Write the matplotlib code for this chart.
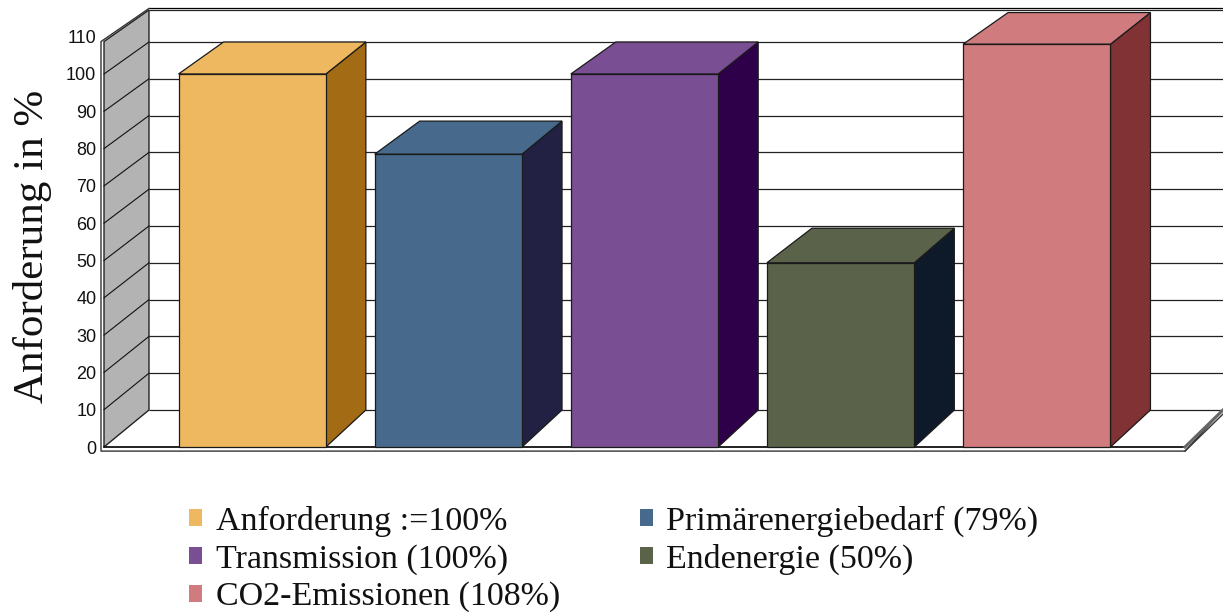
import matplotlib
matplotlib.use('Agg')
import matplotlib.pyplot as plt
import numpy as np
from matplotlib.patches import Patch, Polygon

labels = ['Anforderung :=100%', 'Primärenergiebedarf (79%)', 'Transmission (100%)',
          'Endenergie (50%)', 'CO2-Emissionen (108%)']
values = [100, 78.5, 100, 49.4, 108]
front_colors = ['#EEB861', '#476A8C', '#7A4E92', '#5A6349', '#D07C7F']
side_colors = ['#A26B14', '#232143', '#2E0049', '#0E1A29', '#803235']
yticks = [0, 10, 20, 30, 40, 50, 60, 70, 80, 90, 100, 110]

W, H = 1223, 616
# front plane of the fake 3d box, in pixels
LEFT, RIGHT, Y0, PX_PER_UNIT = 104, 1185, 447, 3.73
SLOT = 196.2
BAR_W = 147.4 / SLOT
DX_L = 45 / SLOT   # depth shift of left edges
DX_R = 40 / SLOT   # depth shift of right edges, bars get narrower at the back
WALL_TOP = 108.7
XMIN = -0.7556
XMAX = 4.7556


def back(v):
    # value on the back plane, seen slightly in perspective
    return 9.92 + 0.9866 * np.asarray(v, dtype=float)


plt.rcParams['font.family'] = ['Liberation Sans', 'DejaVu Sans']
fig = plt.figure(figsize=(W / 100, H / 100), dpi=100)
ax = fig.add_axes([LEFT / W, 1 - Y0 / H, (RIGHT - LEFT) / W, 110 * PX_PER_UNIT / H])
ax.set_xlim(XMIN, XMAX)
ax.set_ylim(0, 110)
for s in ax.spines.values():
    s.set_visible(False)
ax.patch.set_alpha(0)
ax.set_xticks([])
ax.set_yticks(yticks)
ax.tick_params(axis='y', length=0, pad=5.5, labelsize=13, labelcolor='#111111')
ax.set_ylabel('Anforderung in %', family='Liberation Serif', fontsize=31, color='#111111')
ax.yaxis.set_label_coords(-52 / (RIGHT - LEFT), 0.488)

line = dict(color='#222222', lw=0.9, clip_on=False, solid_capstyle='butt')

# back wall grid and floor
far_right = XMAX + 0.3
for v in yticks[:-1]:
    ax.plot([XMIN + DX_L, far_right], [back(v), back(v)], zorder=1, **line)
ax.plot([XMIN + DX_L, far_right], [back(WALL_TOP)] * 2, zorder=1, **line)
ax.plot([XMIN + DX_L, far_right], [back(WALL_TOP) + 0.4] * 2, zorder=1, color='black', lw=0.9, clip_on=False)

# grey side wall
ax.add_patch(Polygon([(XMIN, 0), (XMIN + DX_L, back(0)), (XMIN + DX_L, back(WALL_TOP)), (XMIN, WALL_TOP)],
                     facecolor='#B3B3B3', edgecolor='#222222', lw=1.0, zorder=2, clip_on=False))
for v in yticks[1:-1]:
    ax.plot([XMIN, XMIN + DX_L], [v, back(v)], zorder=3, color='#111111', lw=0.8, clip_on=False)

# outer edge of the wall and the floor slab
out = 3 / SLOT
ax.plot([XMIN + DX_L, XMIN - out, XMIN - out, XMAX, XMAX + 38 / SLOT],
        [back(WALL_TOP) + 0.4, WALL_TOP, -1.1, -1.1, back(0)],
        zorder=3, color='#333333', lw=1.0, clip_on=False)
ax.plot([XMIN, XMAX], [0, 0], zorder=3, color='#111111', lw=1.3, clip_on=False)
ax.plot([XMAX, XMAX + 38 / SLOT], [0, back(0)], zorder=3, color='#666666', lw=2.2, clip_on=False)
ax.plot([XMAX, XMAX + 38 / SLOT], [-1.1, back(0) - 1.1], zorder=3, color='#333333', lw=1.0, clip_on=False)

# bars as three faces each
for i, v in enumerate(values):
    x0 = i - BAR_W / 2
    x1 = i + BAR_W / 2
    faces = [
        ([(x1, 0), (x1 + DX_R, back(0)), (x1 + DX_R, back(v)), (x1, v)], side_colors[i]),
        ([(x0, v), (x1, v), (x1 + DX_R, back(v)), (x0 + DX_L, back(v))], front_colors[i]),
        ([(x0, 0), (x1, 0), (x1, v), (x0, v)], front_colors[i]),
    ]
    for pts, c in faces:
        ax.add_patch(Polygon(pts, facecolor=c, edgecolor='#1a1a1a', lw=0.9, zorder=4,
                             clip_on=False, joinstyle='miter'))

# legend fills column by column, the picture reads row by row
order = [0, 2, 4, 1, 3]
handles = [Patch(facecolor=front_colors[i], edgecolor='none', label=labels[i]) for i in order]
leg = fig.legend(handles=handles, ncol=2, loc='upper left', bbox_to_anchor=(189 / W, 1 - 505.5 / H),
                 frameon=False, borderaxespad=0, borderpad=0,
                 prop={'family': 'Liberation Serif', 'size': 24.5},
                 handlelength=0.39, handleheight=0.39, handletextpad=0.39,
                 labelspacing=0.21, columnspacing=2.35)
for t in leg.get_texts():
    t.set_color('#111111')

fig.savefig('out.png', dpi=100)
